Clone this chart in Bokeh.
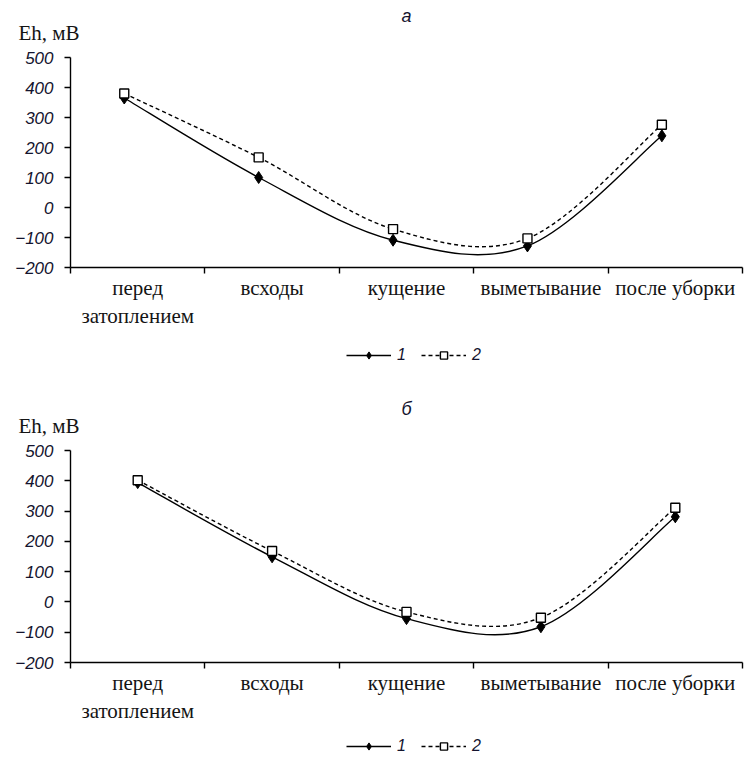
from bokeh.plotting import figure
from bokeh.models import Range1d, FixedTicker, Label, Legend, LegendItem
from bokeh.layouts import column
from bokeh.embed import file_html
from bokeh.resources import INLINE

# ---------------- data ----------------
categories = ["перед\nзатоплением", "всходы", "кущение", "выметывание", "после уборки"]
a_series1 = [365, 100, -109, -128, 239]
a_series2 = [380, 167, -72, -103, 276]
b_series1 = [394, 149, -55, -82, 281]
b_series2 = [402, 168, -33, -52, 311]
y_ticks = [-200, -100, 0, 100, 200, 300, 400, 500]
series_names = ["1", "2"]
panel_titles = ["а", "б"]
y_label = "Eh, мВ"

W = 744
BL, BR, BT, BB = 70, 2, 10, 70
TXT = "#14142e"

S1 = dict(line_color="black", line_width=1.4)
S2 = dict(line_color="black", line_width=1.4, line_dash="4 3")
M1 = dict(marker="diamond", size=12, fill_color="black", line_color="black")
M2 = dict(marker="square", size=9, fill_color="white", line_color="black", line_width=1.4)


def bezier_parts(xs, ys):
    """Excel-like smoothing: cubic Bezier control points (Catmull-Rom)."""
    n = len(xs)
    P = list(zip(xs, ys))
    x0, y0, x1, y1, cx0, cy0, cx1, cy1 = ([] for _ in range(8))
    for i in range(n - 1):
        p0 = P[i - 1] if i > 0 else P[i]
        p1 = P[i]
        p2 = P[i + 1]
        p3 = P[i + 2] if i + 2 < n else P[i + 1]
        x0.append(p1[0]); y0.append(p1[1])
        x1.append(p2[0]); y1.append(p2[1])
        cx0.append(p1[0] + (p2[0] - p0[0]) / 6.0)
        cy0.append(p1[1] + (p2[1] - p0[1]) / 6.0)
        cx1.append(p2[0] - (p3[0] - p1[0]) / 6.0)
        cy1.append(p2[1] - (p3[1] - p1[1]) / 6.0)
    return dict(x0=x0, y0=y0, x1=x1, y1=y1, cx0=cx0, cy0=cy0, cx1=cx1, cy1=cy1)


def positions(x_shift):
    return [i + 0.5 + x_shift for i in range(len(categories))]


def strip(height):
    q = figure(width=W, height=height, x_range=Range1d(0, 1), y_range=Range1d(0, 1),
               output_backend="svg", toolbar_location=None,
               x_axis_type=None, y_axis_type=None,
               min_border_left=0, min_border_right=0, min_border_top=0, min_border_bottom=0)
    q.outline_line_color = None
    q.xgrid.visible = False
    q.ygrid.visible = False
    return q


# strips use their full width as frame if frame alignment can be switched off
_probe = strip(10)
FREE = "frame_align" in type(_probe).properties()
OFF = 0 if FREE else BL


def make_header(title, height):
    h = strip(height)
    if FREE:
        h.frame_align = False
    h.add_layout(Label(x=max(18 - OFF, 0), y=15, x_units="screen", y_units="screen", text=y_label,
                       text_font="Liberation Serif", text_font_size="21px",
                       text_baseline="middle", text_color="#141414"))
    h.add_layout(Label(x=BL + (W - BL - BR) / 2 - OFF, y=32, x_units="screen", y_units="screen",
                       text=title, text_font="Liberation Sans", text_font_style="italic",
                       text_font_size="18px", text_align="center", text_baseline="middle",
                       text_color=TXT))
    return h


def make_chart(s1, s2, x_shift, frame_h):
    n = len(categories)
    p = figure(width=W, height=BT + frame_h + BB,
               x_range=Range1d(0, n), y_range=Range1d(y_ticks[0], y_ticks[-1]),
               output_backend="svg", toolbar_location=None,
               min_border_left=BL, min_border_right=BR, min_border_top=BT,
               min_border_bottom=BB)
    p.outline_line_color = None
    p.xgrid.visible = False
    p.ygrid.visible = False

    xs = positions(x_shift)

    p.bezier(**S1, **bezier_parts(xs, s1))
    p.bezier(**S2, **bezier_parts(xs, s2))
    p.scatter(xs, s1, **M1)
    p.scatter(xs, s2, **M2)

    # y axis
    ya = p.yaxis[0]
    ya.ticker = FixedTicker(ticks=y_ticks)
    ya.minor_tick_line_color = None
    ya.major_tick_in = 0
    ya.major_tick_out = 6
    ya.major_label_standoff = 11
    ya.axis_line_width = 1.4
    ya.major_tick_line_width = 1.4
    ya.major_label_text_font = "Liberation Sans"
    ya.major_label_text_font_style = "italic"
    ya.major_label_text_font_size = "17px"
    ya.major_label_text_color = TXT

    # x axis: ticks at category boundaries, labels at category centres
    xa = p.xaxis[0]
    xa.ticker = FixedTicker(ticks=[i + 0.5 for i in range(n)], minor_ticks=list(range(n + 1)))
    xa.major_label_overrides = {i + 0.5: c for i, c in enumerate(categories)}
    xa.major_tick_in = 0
    xa.major_tick_out = 0
    xa.minor_tick_in = 0
    xa.minor_tick_out = 6
    xa.minor_tick_line_width = 1.4
    xa.minor_tick_line_color = "black"
    xa.axis_line_width = 1.4
    xa.major_label_standoff = 2
    xa.major_label_text_font = "Liberation Serif"
    xa.major_label_text_font_size = "21px"
    xa.major_label_text_color = "#141414"
    return p


def make_legend(height, bottom, s1, s2, x_shift):
    # the series are drawn outside this strip's ranges: only their legend swatches show
    q = strip(height)
    if FREE:
        q.frame_align = False
    xs = positions(x_shift)
    l1 = q.line(xs, s1, **S1)
    l2 = q.line(xs, s2, **S2)
    k1 = q.scatter(xs, s1, **M1)
    k2 = q.scatter(xs, s2, **M2)
    legend = Legend(items=[LegendItem(label=series_names[0], renderers=[l1, k1]),
                           LegendItem(label=series_names[1], renderers=[l2, k2])],
                    orientation="horizontal", location=(346 - OFF, bottom),
                    border_line_color=None, background_fill_alpha=0,
                    glyph_width=45, glyph_height=18, spacing=4, label_standoff=6,
                    padding=4, margin=0,
                    label_text_font="Liberation Sans", label_text_font_style="italic",
                    label_text_font_size="16px", label_text_color=TXT)
    q.add_layout(legend, "center")
    return q


h1 = make_header(panel_titles[0], 47)
p1 = make_chart(a_series1, a_series2, -0.1, 210)
g1 = make_legend(56, 29, a_series1, a_series2, -0.1)
h2 = make_header(panel_titles[1], 47)
p2 = make_chart(b_series1, b_series2, 0.0, 212)
g2 = make_legend(30, 7, b_series1, b_series2, 0.0)

layout = column(h1, p1, g1, h2, p2, g2, spacing=0)
open("out.html", "w").write(file_html(layout, INLINE))
